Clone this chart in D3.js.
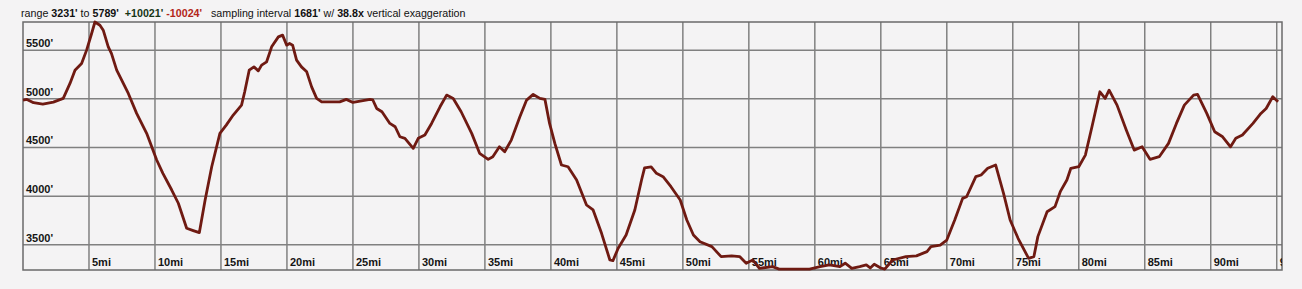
<!DOCTYPE html>
<html>
<head>
<meta charset="utf-8">
<script src="https://cdn.jsdelivr.net/npm/d3@7"></script>
<style>
   body { margin: 0; background: #f4f3f4; }
   svg { display: block; }
</style>
</head>
<body>
<div id="chart"></div>
<script>
// elevation profile, distance in miles and elevation in feet
var miles = [0, 0.3, 0.8, 1.5, 2.3, 3.05, 3.56, 3.94, 4.44, 4.82, 5.2, 5.45, 5.83, 6.08, 6.46, 6.7, 7.1, 7.98, 8.61, 9.37,
   10.13, 10.6, 11.27, 11.77, 12.4, 12.9, 13.36, 13.8, 14.3, 14.92, 15.4, 15.93, 16.56, 16.8, 17.14, 17.5, 17.83, 18.08, 18.46, 18.84,
   19.35, 19.67, 19.98, 20.2, 20.43, 20.73, 21.1, 21.5, 21.87, 22.25, 22.63, 23.3, 24.0, 24.5, 25.0, 26.3, 26.5, 26.8, 27.2, 27.8,
   28.2, 28.56, 28.94, 29.57, 29.95, 30.45, 30.96, 31.6, 32.1, 32.6, 33.2, 34.0, 34.6, 35.25, 35.6, 36.1, 36.5, 37.0, 37.65, 38.16,
   38.66, 39.17, 39.55, 39.9, 40.3, 40.8, 41.3, 41.95, 42.7, 43.2, 43.84, 44.47, 44.7, 45.1, 45.7, 46.36, 46.87, 47.1, 47.6, 48.0,
   48.5, 49.1, 49.8, 50.3, 50.8, 51.3, 52.2, 52.9, 53.7, 54.3, 54.8, 55.3, 55.8, 56.8, 57.3, 59.6, 60.4, 61.1, 61.9, 62.3,
   62.8, 63.4, 63.9, 64.2, 64.5, 65.0, 65.3, 65.9, 66.9, 67.7, 68.5, 68.8, 69.5, 70.0, 70.6, 71.2, 71.5, 72.2, 72.6, 73.1,
   73.7, 74.3, 74.8, 75.4, 76.2, 76.6, 76.9, 77.6, 78.2, 78.6, 79.1, 79.4, 80.0, 80.5, 81.0, 81.6, 82.0, 82.3, 82.9, 83.6,
   84.2, 84.8, 85.4, 86.1, 86.8, 87.4, 88.0, 88.7, 89.0, 89.7, 90.3, 90.9, 91.5, 91.9, 92.4, 93.2, 93.8, 94.2, 94.7, 95.1];
var elevations = [4987, 4994, 4960, 4946, 4966, 5004, 5158, 5294, 5363, 5500, 5671, 5789, 5756, 5705, 5534, 5466, 5294, 5055, 4850, 4645,
   4371, 4234, 4063, 3927, 3670, 3646, 3625, 3960, 4302, 4645, 4730, 4833, 4935, 5072, 5294, 5328, 5287, 5346, 5380, 5534,
   5636, 5654, 5551, 5568, 5551, 5397, 5328, 5277, 5123, 5004, 4969, 4969, 4969, 4994, 4963, 4994, 4990, 4901, 4867, 4747,
   4713, 4610, 4594, 4491, 4594, 4628, 4747, 4918, 5038, 5004, 4867, 4645, 4440, 4378, 4405, 4507, 4456, 4576, 4815, 4987,
   5045, 5004, 4994, 4747, 4542, 4320, 4302, 4166, 3909, 3858, 3618, 3344, 3337, 3465, 3601, 3858, 4166, 4290, 4300, 4234,
   4200, 4097, 3960, 3755, 3601, 3532, 3481, 3379, 3386, 3379, 3311, 3344, 3258, 3276, 3250, 3250, 3276, 3293, 3276, 3311,
   3258, 3276, 3293, 3262, 3300, 3262, 3250, 3344, 3379, 3386, 3430, 3481, 3498, 3549, 3755, 3977, 3994, 4200, 4217, 4286,
   4320, 4029, 3755, 3567, 3361, 3379, 3584, 3840, 3892, 4046, 4166, 4286, 4302, 4422, 4713, 5072, 5004, 5089, 4935, 4679,
   4473, 4507, 4378, 4405, 4542, 4747, 4935, 5038, 5045, 4850, 4661, 4610, 4507, 4594, 4628, 4747, 4850, 4901, 5021, 4969];

var xTicks = [5, 10, 15, 20, 25, 30, 35, 40, 45, 50, 55, 60, 65, 70, 75, 80, 85, 90, 95];
var yTicks = [3500, 4000, 4500, 5000, 5500];
var xDomain = [0, 95.4];
var yDomain = [3231, 5789];

// header pieces: text, bold or not, colour
var headerParts = [
   ["range ", false, "#111"], ["3231'", true, "#111"], [" to ", false, "#111"], ["5789'", true, "#111"],
   ["  ", false, "#111"], ["+10021'", true, "#163516"], [" ", false, "#111"], ["-10024'", true, "#b3261a"],
   ["   sampling interval ", false, "#111"], ["1681'", true, "#111"], [" w/ ", false, "#111"],
   ["38.8x", true, "#111"], [" vertical exaggeration", false, "#111"]
];

var draw_profile = function (selector) {
   // draws the elevation profile with grid, labels and header

   var width = 1302, height = 289;
   var pl = 23, pr = 1282, pt = 22, pb = 270;

   var svg = d3.select(selector).append("svg")
      .attr("width", width)
      .attr("height", height)
      .style("font-family", "'Liberation Sans', Arial, Helvetica, sans-serif");

   var x = d3.scaleLinear().domain(xDomain).range([pl, pr]);
   var y = d3.scaleLinear().domain(yDomain).range([271, pt]);

   // clip for the labels so the last one gets cut at the frame like in the picture
   svg.append("clipPath").attr("id", "plotclip")
      .append("rect")
      .attr("x", pl).attr("y", pt)
      .attr("width", pr - pl).attr("height", pb - pt);

   // grid
   svg.selectAll(".vgrid")
      .data(xTicks)
      .enter().append("line")
      .attr("class", "vgrid")
      .attr("x1", function (d) { return x(d) }).attr("x2", function (d) { return x(d) })
      .attr("y1", pt).attr("y2", pb)
      .style("stroke", "#808080").style("stroke-width", 1.5);

   svg.selectAll(".hgrid")
      .data(yTicks)
      .enter().append("line")
      .attr("class", "hgrid")
      .attr("x1", pl).attr("x2", pr)
      .attr("y1", function (d) { return y(d) }).attr("y2", function (d) { return y(d) })
      .style("stroke", "#808080").style("stroke-width", 1.5);

   svg.append("rect")
      .attr("x", pl).attr("y", pt)
      .attr("width", pr - pl).attr("height", pb - pt)
      .style("fill", "none").style("stroke", "#6a6a6a").style("stroke-width", 1.5);

   // tick labels
   var labels = svg.append("g").attr("clip-path", "url(#plotclip)")
      .style("font-size", "11px").style("font-weight", "bold").style("fill", "#151515");

   labels.selectAll(".xlab")
      .data(xTicks)
      .enter().append("text")
      .attr("class", "xlab")
      .attr("x", function (d) { return x(d) + 3 })
      .attr("y", pb - 4)
      .text(function (d) { return d + "mi" });

   labels.selectAll(".ylab")
      .data(yTicks)
      .enter().append("text")
      .attr("class", "ylab")
      .attr("x", pl + 3)
      .attr("y", function (d) { return y(d) - 3 })
      .text(function (d) { return d + "'" });

   // the profile line
   var points = miles.map(function (m, i) { return [m, elevations[i]] });
   var line = d3.line()
      .x(function (d) { return x(d[0]) })
      .y(function (d) { return y(d[1]) });

   svg.append("path")
      .datum(points)
      .attr("d", line)
      .style("fill", "none")
      .style("stroke", "#6f1a12")
      .style("stroke-width", 2.8)
      .style("stroke-linejoin", "round");

   // header
   var header = svg.append("text")
      .attr("x", 21).attr("y", 17)
      .style("font-size", "10.7px")
      .style("white-space", "pre");

   header.selectAll("tspan")
      .data(headerParts)
      .enter().append("tspan")
      .text(function (d) { return d[0] })
      .style("font-weight", function (d) { return d[1] ? "bold" : "normal" })
      .style("fill", function (d) { return d[2] });
}

draw_profile("#chart");
</script>
</body>
</html>
